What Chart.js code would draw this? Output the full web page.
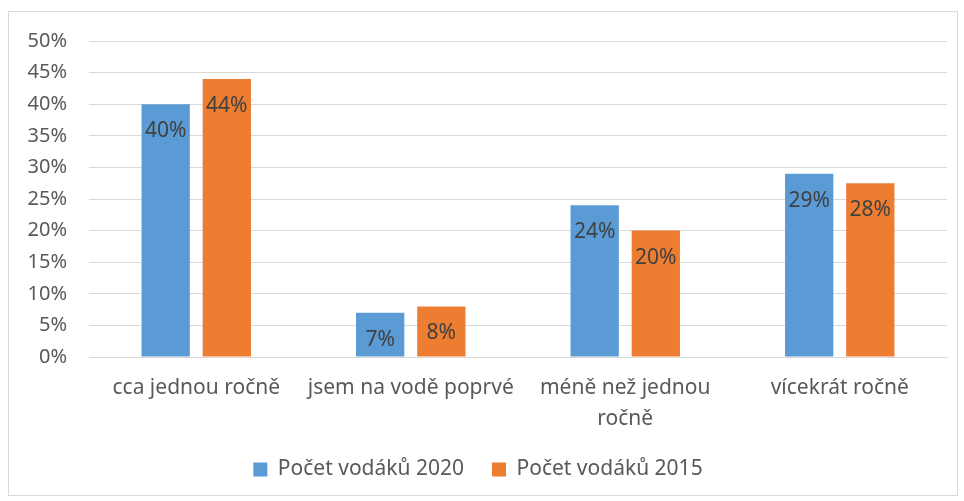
<!DOCTYPE html>
<html>
<head>
<meta charset="utf-8">
<script src="https://cdn.jsdelivr.net/npm/chart.js@4"></script>
<style>
  body { margin: 0; background: #fff; }
  #wrap { position: absolute; left: 8px; top: 11px; width: 948px; height: 483px; border: 1px solid #d9d9d9; }
</style>
</head>
<body>
<div id="wrap"><canvas id="myChart" width="948" height="483"></canvas></div>
<script>
const categories = ['cca jednou ročně', 'jsem na vodě poprvé', ['méně než jednou', 'ročně'], 'vícekrát ročně'];
const values2020 = [40, 7, 24, 29];
const values2015 = [44, 8, 20, 27.5];
const yTicks = [0, 5, 10, 15, 20, 25, 30, 35, 40, 45, 50];

const fontFam = '"Noto Sans", "Open Sans", sans-serif';

// labels inside the top of each bar, like Excel "inside end"
const barLabels = {
  id: 'barLabels',
  afterDatasetsDraw(chart) {
    const c = chart.ctx;
    c.save();
    c.font = '21px ' + fontFam;
    c.fillStyle = '#404040';
    c.textAlign = 'center';
    c.textBaseline = 'middle';
    chart.data.datasets.forEach((ds, i) => {
      chart.getDatasetMeta(i).data.forEach((bar, j) => {
        c.fillText(Math.round(ds.data[j]) + '%', bar.x, bar.y + 27);
      });
    });
    c.restore();
  }
};

const ctx = document.getElementById('myChart');

new Chart(ctx, {
  type: 'bar',
  data: {
    labels: categories,
    datasets: [{
      label: 'Počet vodáků 2020',
      data: values2020,
      backgroundColor: '#5b9bd5',
      borderWidth: 0
    }, {
      label: 'Počet vodáků 2015',
      data: values2015,
      backgroundColor: '#ed7d31',
      borderWidth: 0
    }]
  },
  options: {
    responsive: false,
    animation: false,
    categoryPercentage: 0.57,
    barPercentage: 0.79,
    layout: { padding: { left: 0, right: 10, top: 29, bottom: 5 } },
    plugins: {
      tooltip: { enabled: false },
      legend: {
        position: 'bottom',
        labels: {
          boxWidth: 14,
          boxHeight: 14,
          padding: 28,
          color: '#595959',
          font: { family: fontFam, size: 21 }
        }
      }
    },
    scales: {
      x: {
        grid: { display: false },
        border: { color: '#d9d9d9', width: 1 },
        ticks: {
          color: '#595959',
          padding: 7,
          maxRotation: 0,
          autoSkip: false,
          font: { family: fontFam, size: 21, lineHeight: 1.5 }
        },
        afterFit(scale) { scale.height = 74; }
      },
      y: {
        min: 0,
        max: 50,
        afterBuildTicks(scale) { scale.ticks = yTicks.map(v => ({ value: v })); },
        grid: { color: '#d9d9d9', lineWidth: 1, drawTicks: false },
        border: { display: false },
        ticks: {
          color: '#595959',
          padding: 22,
          font: { family: fontFam, size: 20 },
          callback: v => v + '%'
        },
        afterFit(scale) {
          scale.width = 80;
          scale.paddingTop = 0;
          scale.paddingBottom = 0;
        }
      }
    }
  },
  plugins: [barLabels]
});
</script>
</body>
</html>
